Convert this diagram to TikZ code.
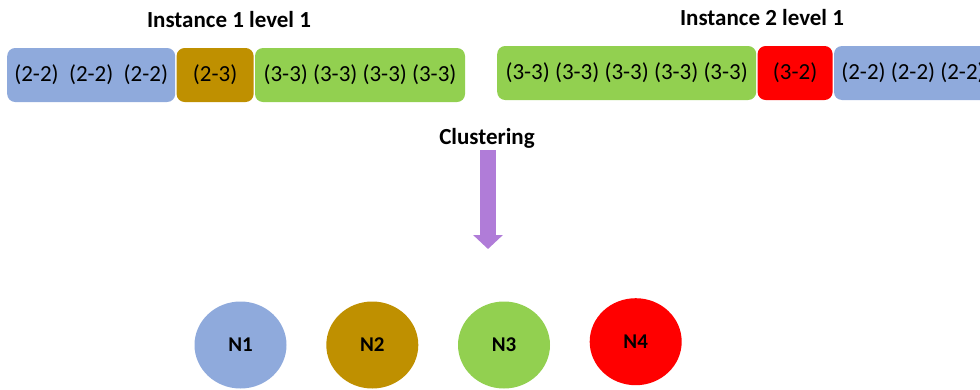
\documentclass[tikz,border=0pt]{standalone}
\usepackage{fontspec}
\setmainfont{Carlito}
\usetikzlibrary{positioning,shapes.geometric,arrows.meta}
\definecolor{pairblue}{HTML}{8FAADC}
\definecolor{pairgold}{HTML}{BF9000}
\definecolor{pairgreen}{HTML}{92D050}
\definecolor{pairred}{HTML}{FF0000}
\definecolor{arrowpurple}{RGB}{176,124,216}
\tikzset{
  seg/.style={rounded corners=8pt, minimum height=54pt, inner sep=0pt,
    font=\fontsize{23}{27}\selectfont},
  title/.style={font=\bfseries\fontsize{23}{28}\selectfont},
  cluster/.style={ellipse, minimum width=92pt, minimum height=87pt, inner sep=0pt,
    font=\bfseries\fontsize{21}{25}\selectfont},
  clusterarrow/.style={draw=arrowpurple, line width=16pt,
    -{Triangle[width=29pt,length=14pt]}},
}
\begin{document}
\begin{tikzpicture}[x=1pt,y=-1pt]
  \useasboundingbox (0,0) rectangle (980,389);
  \clip (0,0) rectangle (980,389);
  % first instance
  \node[title] (t1) at (229,20) {Instance 1 level 1};
  \node[seg, fill=pairblue, minimum width=168pt, anchor=west] (i1a) at (7,75) {(2-2)\ \ (2-2)\ \ (2-2)};
  \node[seg, fill=pairgold, minimum width=77pt, right=1pt of i1a] (i1b) {(2-3)};
  \node[seg, fill=pairgreen, minimum width=210pt, right=1pt of i1b] (i1c) {(3-3) (3-3) (3-3) (3-3)};
  % second instance
  \node[title] (t2) at (762,18) {Instance 2 level 1};
  \node[seg, fill=pairgreen, minimum width=259pt, anchor=west] (i2a) at (497,73) {(3-3) (3-3) (3-3) (3-3) (3-3)};
  \node[seg, fill=pairred, minimum width=75pt, right=1pt of i2a] (i2b) {(3-2)};
  \node[seg, fill=pairblue, minimum width=158pt, right=1pt of i2b] (i2c) {(2-2) (2-2) (2-2)};
  % clustering step
  \node[title] (clus) at (487,138) {Clustering};
  \coordinate (atop) at (488,150);
  \coordinate (abot) at (488,249);
  \draw[clusterarrow] (atop) -- (abot);
  % resulting nodes
  \node[cluster, fill=pairblue] (n1) at (240.5,345) {N1};
  \node[cluster, fill=pairgold] (n2) at (372.3,345) {N2};
  \node[cluster, fill=pairgreen] (n3) at (504,345) {N3};
  \node[cluster, fill=pairred] (n4) at (635.7,341.7) {N4};
\end{tikzpicture}
\end{document}
